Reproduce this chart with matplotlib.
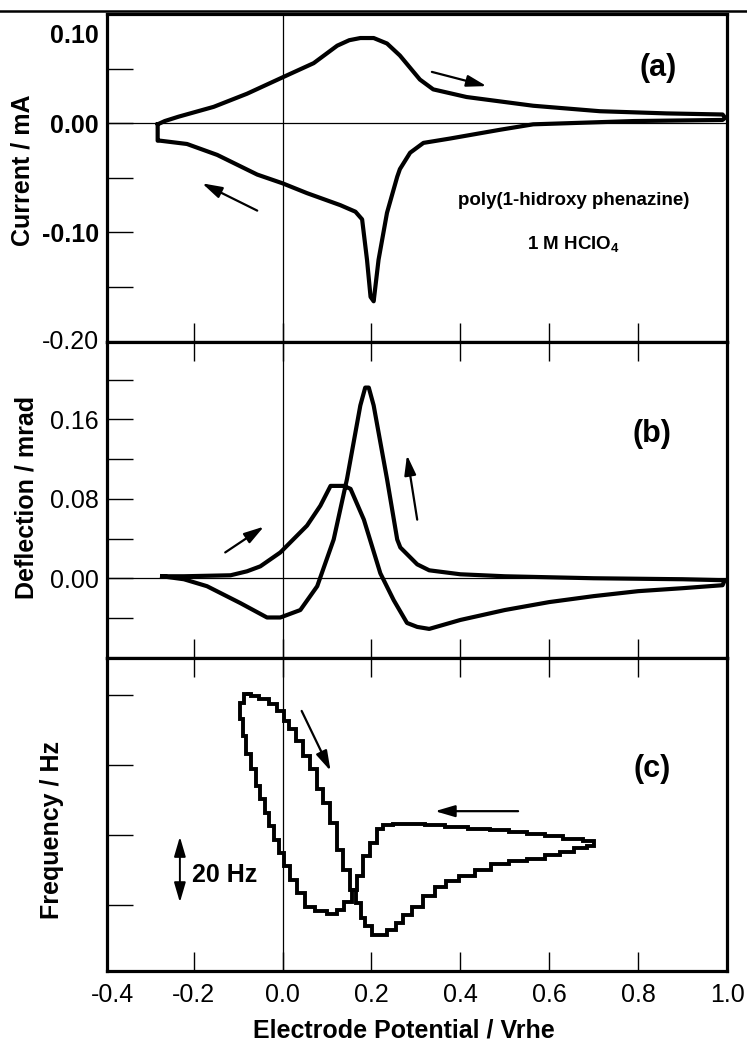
import matplotlib
matplotlib.use("Agg")
import matplotlib.pyplot as plt
from matplotlib.lines import Line2D
from matplotlib import transforms

plt.rcParams['font.family'] = ['Liberation Sans', 'DejaVu Sans']
plt.rcParams['mathtext.fontset'] = 'custom'
plt.rcParams['mathtext.rm'] = 'Liberation Sans'
plt.rcParams['mathtext.bf'] = 'Liberation Sans:bold'

# ---------------- data ----------------
# (a) cyclic voltammogram: potential (V vs RHE) and current (mA)
cv_potential = [-0.281, -0.265, -0.234, -0.155, -0.080, 0.000, 0.070, 0.123, 0.150,
                0.175, 0.205, 0.235, 0.264, 0.309, 0.339, 0.414, 0.564, 0.714, 0.864,
                0.990, 0.996, 0.990, 0.790, 0.640, 0.564, 0.489, 0.377, 0.317, 0.287,
                0.264, 0.258, 0.235, 0.216, 0.205, 0.198, 0.190, 0.179, 0.164, 0.130,
                0.055, 0.000, -0.057, -0.147, -0.215, -0.275, -0.281, -0.281]
cv_current = [-0.001, 0.002, 0.006, 0.015, 0.027, 0.042, 0.055, 0.071, 0.076,
              0.078, 0.078, 0.073, 0.062, 0.040, 0.031, 0.024, 0.016, 0.011, 0.009,
              0.008, 0.005, 0.003, 0.002, 0.000, -0.001, -0.006, -0.014, -0.018, -0.027,
              -0.042, -0.049, -0.082, -0.125, -0.163, -0.159, -0.125, -0.088, -0.081, -0.075,
              -0.064, -0.055, -0.047, -0.029, -0.019, -0.016, -0.016, -0.001]

# (b) probe beam deflection (mrad)
pbd_potential = [-0.271, -0.222, -0.117, -0.080, -0.050, -0.005, 0.055, 0.085, 0.108,
                 0.138, 0.153, 0.183, 0.220, 0.250, 0.280, 0.303, 0.330, 0.400, 0.500,
                 0.600, 0.700, 0.800, 0.900, 0.990, 0.995, 0.900, 0.700, 0.500, 0.400,
                 0.330, 0.303, 0.265, 0.258, 0.235, 0.205, 0.194, 0.186, 0.175, 0.145,
                 0.115, 0.078, 0.040, -0.005, -0.035, -0.095, -0.170, -0.222, -0.271]
pbd_deflection = [0.002, 0.002, 0.003, 0.007, 0.012, 0.026, 0.053, 0.073, 0.093,
                  0.093, 0.090, 0.059, 0.005, -0.022, -0.045, -0.049, -0.051, -0.042, -0.032,
                  -0.024, -0.018, -0.013, -0.010, -0.007, -0.002, -0.001, 0.000, 0.002, 0.004,
                  0.008, 0.014, 0.031, 0.039, 0.100, 0.174, 0.192, 0.192, 0.174, 0.100,
                  0.039, -0.008, -0.032, -0.0395, -0.0395, -0.025, -0.008, -0.001, 0.002]

# (c) EQCM frequency response (Hz, arbitrary offset)
freq_potential = [-0.078, -0.096, -0.096, -0.084, -0.081, -0.062, -0.058, -0.043, -0.036,
                  -0.024, -0.013, -0.002, 0.009, 0.024, 0.039, 0.062, 0.084, 0.114, 0.129,
                  0.148, 0.163, 0.174, 0.189, 0.204, 0.219, 0.234, 0.264, 0.300, 0.339,
                  0.390, 0.444, 0.489, 0.530, 0.570, 0.610, 0.650, 0.700, 0.700, 0.670,
                  0.640, 0.610, 0.570, 0.530, 0.489, 0.450, 0.414, 0.380, 0.354, 0.330,
                  0.302, 0.280, 0.264, 0.245, 0.227, 0.212, 0.189, 0.182, 0.171, 0.159,
                  0.144, 0.129, 0.114, 0.099, 0.084, 0.069, 0.054, 0.039, 0.021, 0.009,
                  -0.002, -0.021, -0.039, -0.066, -0.078]
freq_shift = [80.2, 77.8, 73.1, 68.3, 63.0, 58.7, 54.0, 50.2, 46.3,
              42.5, 38.7, 34.9, 31.1, 27.3, 23.4, 19.6, 18.2, 17.5, 18.7,
              21.0, 24.4, 28.2, 33.9, 37.8, 41.6, 42.8, 43.2, 43.2, 42.8,
              42.4, 41.6, 41.4, 40.8, 40.2, 39.6, 38.8, 38.3, 37.0, 36.2,
              35.2, 34.2, 33.2, 32.6, 31.8, 30.0, 28.2, 26.8, 25.3, 22.6,
              19.6, 17.2, 14.9, 13.0, 11.5, 11.5, 13.9, 16.3, 20.6, 24.4,
              30.1, 35.8, 43.5, 49.2, 53.0, 58.7, 62.6, 66.8, 70.2, 72.6,
              75.4, 77.4, 78.8, 79.7, 80.2]

x_ticks = [-0.2, 0.0, 0.2, 0.4, 0.6, 0.8, 1.0]
x_ticklabels = ["-0.2", "0.0", "0.2", "0.4", "0.6", "0.8", "1.0"]
cv_ticks = [-0.15, -0.10, -0.05, 0.0, 0.05]
cv_ticklabels = ["", "-0.10", "", "0.00", ""]
pbd_ticks = [-0.04, 0.0, 0.04, 0.08, 0.12, 0.16, 0.20]
pbd_ticklabels = ["", "0.00", "", "0.08", "", "0.16", ""]
freq_ticks = [20, 40, 60, 80]

# ---------------- figure ----------------
W, H = 747, 1046
fig = plt.figure(figsize=(W / 100, H / 100), dpi=100)


def box(left, top, right, bottom):
    return [left / W, 1 - bottom / H, (right - left) / W, (bottom - top) / H]


ax_a = fig.add_axes(box(107, 14, 727, 341.7))
ax_b = fig.add_axes(box(107, 341.7, 727, 658))
ax_c = fig.add_axes(box(107, 658, 727, 971))

TICK_FS = 18
for ax in (ax_a, ax_b, ax_c):
    ax.set_xlim(-0.395, 1.0)
    for sp in ax.spines.values():
        sp.set_linewidth(2.3)
    ax.axvline(0.0, color='k', lw=0.9, zorder=1)
    ax.set_xticks(x_ticks)
    ax.tick_params(axis='x', direction='in', length=14, width=1.0, top=True, bottom=True,
                   labelbottom=False, labelsize=TICK_FS, pad=9)
    ax.tick_params(axis='y', direction='in', length=19, width=1.0, left=True, right=False,
                   labelsize=TICK_FS, pad=6)

ax_a.tick_params(axis='x', top=False)

# offset for hand-placed y labels
ylab_off = transforms.ScaledTranslation(-8 / 100, 0, fig.dpi_scale_trans)

# ---- (a) current ----
ax_a.set_ylim(-0.2, 0.1)
ax_a.axhline(0.0, color='k', lw=0.9, zorder=1)
ax_a.plot(cv_potential, cv_current, color='k', lw=3.0, solid_joinstyle='round', zorder=3)
ax_a.set_yticks(cv_ticks)
ax_a.set_yticklabels(cv_ticklabels, fontweight='bold')
ax_a.text(0, 0.0797, "0.10", transform=ax_a.get_yaxis_transform() + ylab_off,
          ha='right', va='center', fontsize=TICK_FS, fontweight='bold')
ax_a.text(0, -0.2, "-0.20", transform=ax_a.get_yaxis_transform() + ylab_off,
          ha='right', va='center', fontsize=TICK_FS)
ax_a.text(0.845, 0.051, "(a)", ha='center', va='center', fontsize=22, fontweight='bold')
ax_a.text(0.655, -0.0745, "poly(1-hidroxy phenazine)", ha='center', va='baseline',
          fontsize=13.5, fontweight='bold')
ax_a.text(0.655, -0.1157, r"1 M HClO$_\mathbf{4}$", ha='center', va='baseline',
          fontsize=13.5, fontweight='bold')

arrow_kw = dict(arrowstyle='-|>,head_length=0.75,head_width=0.22', lw=1.6, color='k',
                shrinkA=0, shrinkB=0, mutation_scale=16)
ax_a.annotate('', xy=(-0.181, -0.055), xytext=(-0.057, -0.080), arrowprops=arrow_kw)
ax_a.annotate('', xy=(0.459, 0.034), xytext=(0.336, 0.047), arrowprops=arrow_kw)

# ---- (b) deflection ----
ax_b.set_ylim(-0.0803, 0.2382)
ax_b.axhline(0.0, color='k', lw=0.9, zorder=1)
ax_b.plot(pbd_potential, pbd_deflection, color='k', lw=3.0, solid_joinstyle='round', zorder=3)
ax_b.set_yticks(pbd_ticks)
ax_b.set_yticklabels(pbd_ticklabels)
ax_b.text(0.832, 0.1455, "(b)", ha='center', va='center', fontsize=22, fontweight='bold')
ax_b.annotate('', xy=(-0.042, 0.052), xytext=(-0.129, 0.026), arrowprops=arrow_kw)
ax_b.annotate('', xy=(0.280, 0.124), xytext=(0.303, 0.059), arrowprops=arrow_kw)

# ---- (c) frequency ----
ax_c.set_ylim(1.2, 90.5)
ax_c.step(freq_potential, freq_shift, where='mid', color='k', lw=2.8,
          solid_joinstyle='miter', zorder=3)
ax_c.set_yticks(freq_ticks)
ax_c.set_yticklabels([])
ax_c.tick_params(axis='x', labelbottom=True)
ax_c.set_xticklabels(x_ticklabels)
ax_c.text(-0.383, 0, "-0.4", ha='center', va='top', fontsize=TICK_FS,
          transform=ax_c.get_xaxis_transform() +
          transforms.ScaledTranslation(0, -12 / 100, fig.dpi_scale_trans))
ax_c.text(0.832, 58.7, "(c)", ha='center', va='center', fontsize=22, fontweight='bold')
ax_c.annotate('', xy=(0.108, 58.3), xytext=(0.043, 75.4), arrowprops=arrow_kw)
ax_c.annotate('', xy=(0.343, 46.8), xytext=(0.530, 46.8), arrowprops=arrow_kw)
ax_c.annotate('', xy=(-0.231, 20.8), xytext=(-0.231, 39.5),
              arrowprops=dict(arrowstyle='<|-|>,head_length=0.75,head_width=0.22', lw=1.4,
                              color='k', shrinkA=0, shrinkB=0, mutation_scale=16))
ax_c.text(-0.203, 28.5, "20 Hz", ha='left', va='center', fontsize=18, fontweight='bold')

# ---- axis titles ----
fig.text(23 / W, 1 - 170 / H, "Current / mA", rotation=90, ha='center', va='center',
         fontsize=18, fontweight='bold')
fig.text(27 / W, 1 - 497 / H, "Deflection / mrad", rotation=90, ha='center', va='center',
         fontsize=18, fontweight='bold')
fig.text(52 / W, 1 - 830 / H, "Frequency / Hz", rotation=90, ha='center', va='center',
         fontsize=18, fontweight='bold')
fig.text(404 / W, 1 - 1037 / H, "Electrode Potential / Vrhe", ha='center', va='baseline',
         fontsize=18, fontweight='bold')

# ---- page header rule ----
fig.add_artist(Line2D([0, 1], [1 - 11 / H, 1 - 11 / H], transform=fig.transFigure,
                      color='k', lw=1.8))

fig.savefig('out.png', dpi=100)
